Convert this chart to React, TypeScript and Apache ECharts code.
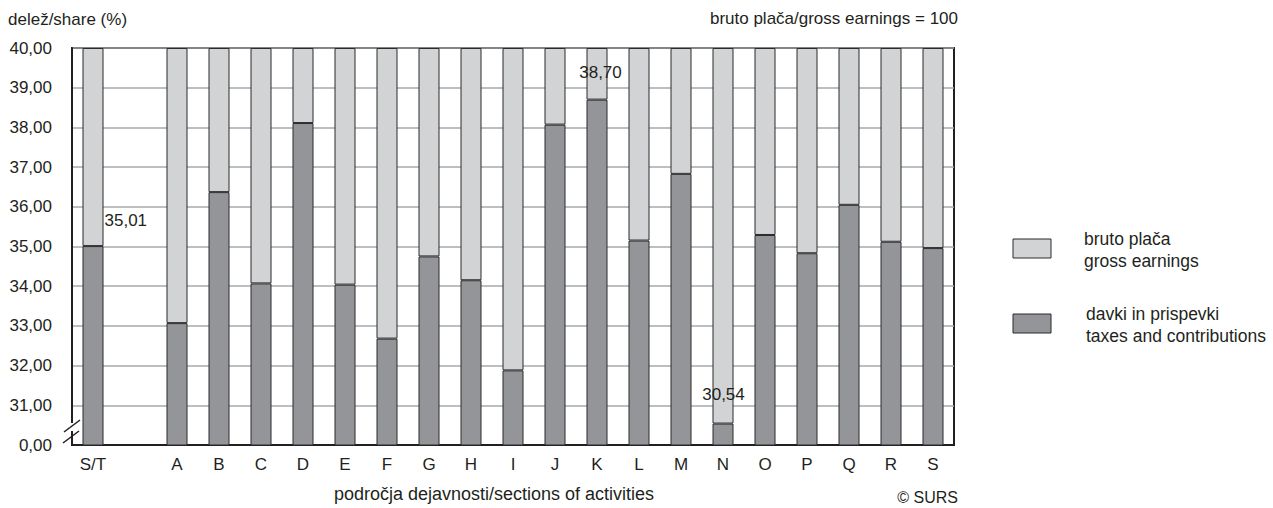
import React, { useEffect, useRef } from "react";
import * as echarts from "echarts";

const categories = ["S/T", "", "A", "B", "C", "D", "E", "F", "G", "H", "I", "J", "K", "L", "M", "N", "O", "P", "Q", "R", "S"];
const taxesValues: (number | null)[] = [35.01, null, 33.07, 36.37, 34.07, 38.11, 34.04, 32.68, 34.75, 34.15, 31.88, 38.07, 38.70, 35.15, 36.83, 30.54, 35.29, 34.83, 36.05, 35.12, 34.96];
const axisTop = 40; // gross earnings shown up to the top of the (broken) axis
const yTickMin = 30;
const labelledCategories = ["S/T", "K", "N"];

const FONT = '"Liberation Sans", Arial, sans-serif';
const FS = 17;
const LIGHT = "#d1d3d4";
const DARK = "#939598";
const EDGE = "#2b2b2b";
const INK = "#231f20";

const fmt = (v: number) => v.toFixed(2).replace(".", ",");

export default function App() {
  const ref = useRef<HTMLDivElement>(null);
  useEffect(() => {
    document.body.style.margin = "0";
    const chart = echarts.init(ref.current!, null, { renderer: "svg" });
    const labelPos: Record<string, number[]> = { "S/T": [22, -26], K: [14, -27], N: [11, -29] };
    const labelAlign: Record<string, string> = { "S/T": "left", K: "center", N: "center" };
    const darkData = taxesValues.map((v, i) => {
      const c = categories[i];
      if (v == null) return null;
      if (labelledCategories.includes(c)) {
        return {
          value: v,
          label: {
            show: true,
            position: labelPos[c],
            align: labelAlign[c],
            verticalAlign: "middle",
            formatter: fmt(v),
            fontFamily: FONT,
            fontSize: FS,
            color: INK,
          },
        };
      }
      return v;
    });
    const lightData = taxesValues.map((v) => (v == null ? null : +(axisTop - v).toFixed(2)));

    const textStyle = { fontFamily: FONT, fontSize: FS, fill: INK };
    chart.setOption({
      animation: false,
      textStyle: { fontFamily: FONT },
      grid: {
        left: 72,
        right: 319,
        top: 48,
        bottom: 59,
        show: true,
        borderColor: INK,
        borderWidth: 2,
        backgroundColor: "transparent",
      },
      xAxis: {
        type: "category",
        data: categories,
        axisLine: { lineStyle: { color: INK, width: 2 } },
        axisTick: { length: 6, lineStyle: { color: INK, width: 1.5 }, interval: (i: number) => i !== 1 },
        axisLabel: { color: INK, fontFamily: FONT, fontSize: FS, margin: 11, interval: 0 },
        name: "področja dejavnosti/sections of activities",
        nameLocation: "middle",
        nameGap: 40,
        nameTextStyle: { color: INK, fontFamily: FONT, fontSize: 18, padding: [0, 38, 0, 0] },
      },
      yAxis: {
        type: "value",
        min: yTickMin,
        max: axisTop,
        interval: 1,
        axisLine: { show: true, lineStyle: { color: INK, width: 2 } },
        axisTick: { show: false },
        axisLabel: {
          color: INK,
          fontFamily: FONT,
          fontSize: FS,
          margin: 20,
          formatter: (v: number) => (v === yTickMin ? "0,00" : fmt(v)),
        },
        splitLine: { lineStyle: { color: "#a7a9ac", width: 1.5 } },
      },
      series: [
        {
          name: "davki in prispevki / taxes and contributions",
          type: "bar",
          stack: "t",
          barWidth: 21,
          data: darkData,
          itemStyle: { color: DARK, borderColor: EDGE, borderWidth: 1 },
          z: 3,
        },
        {
          name: "bruto plača / gross earnings",
          type: "bar",
          stack: "t",
          barWidth: 21,
          data: lightData,
          itemStyle: { color: LIGHT, borderColor: EDGE, borderWidth: 1 },
          z: 2,
        },
      ],
      graphic: [
        { type: "text", left: 8, top: 11, style: { ...textStyle, text: "delež/share (%)" } },
        { type: "text", right: 1273 - 958, top: 10, style: { ...textStyle, text: "bruto plača/gross earnings = 100" } },
        { type: "text", right: 1273 - 958, top: 489, style: { ...textStyle, fontSize: 16, text: "© SURS" } },
        // legend
        { type: "rect", shape: { x: 1013, y: 239, width: 38, height: 19 }, style: { fill: LIGHT, stroke: EDGE, lineWidth: 1 } },
        { type: "text", x: 1084, y: 250, style: { ...textStyle, fontSize: 17.5, text: "bruto plača\ngross earnings", lineHeight: 22, verticalAlign: "middle" } },
        { type: "rect", shape: { x: 1013, y: 314, width: 38, height: 19 }, style: { fill: DARK, stroke: EDGE, lineWidth: 1 } },
        { type: "text", x: 1086, y: 325, style: { ...textStyle, fontSize: 17.5, text: "davki in prispevki\ntaxes and contributions", lineHeight: 22, verticalAlign: "middle" } },
        // axis break mark
        { type: "rect", z: 100, shape: { x: 68, y: 423, width: 8, height: 8 }, style: { fill: "#fff" } },
        { type: "line", z: 101, shape: { x1: 64, y1: 432, x2: 80, y2: 420 }, style: { stroke: INK, lineWidth: 1.5 } },
        { type: "line", z: 101, shape: { x1: 63, y1: 443, x2: 79, y2: 431 }, style: { stroke: INK, lineWidth: 1.5 } },
      ],
    });
    return () => chart.dispose();
  }, []);
  return <div ref={ref} style={{ width: 1273, height: 508 }} />;
}
